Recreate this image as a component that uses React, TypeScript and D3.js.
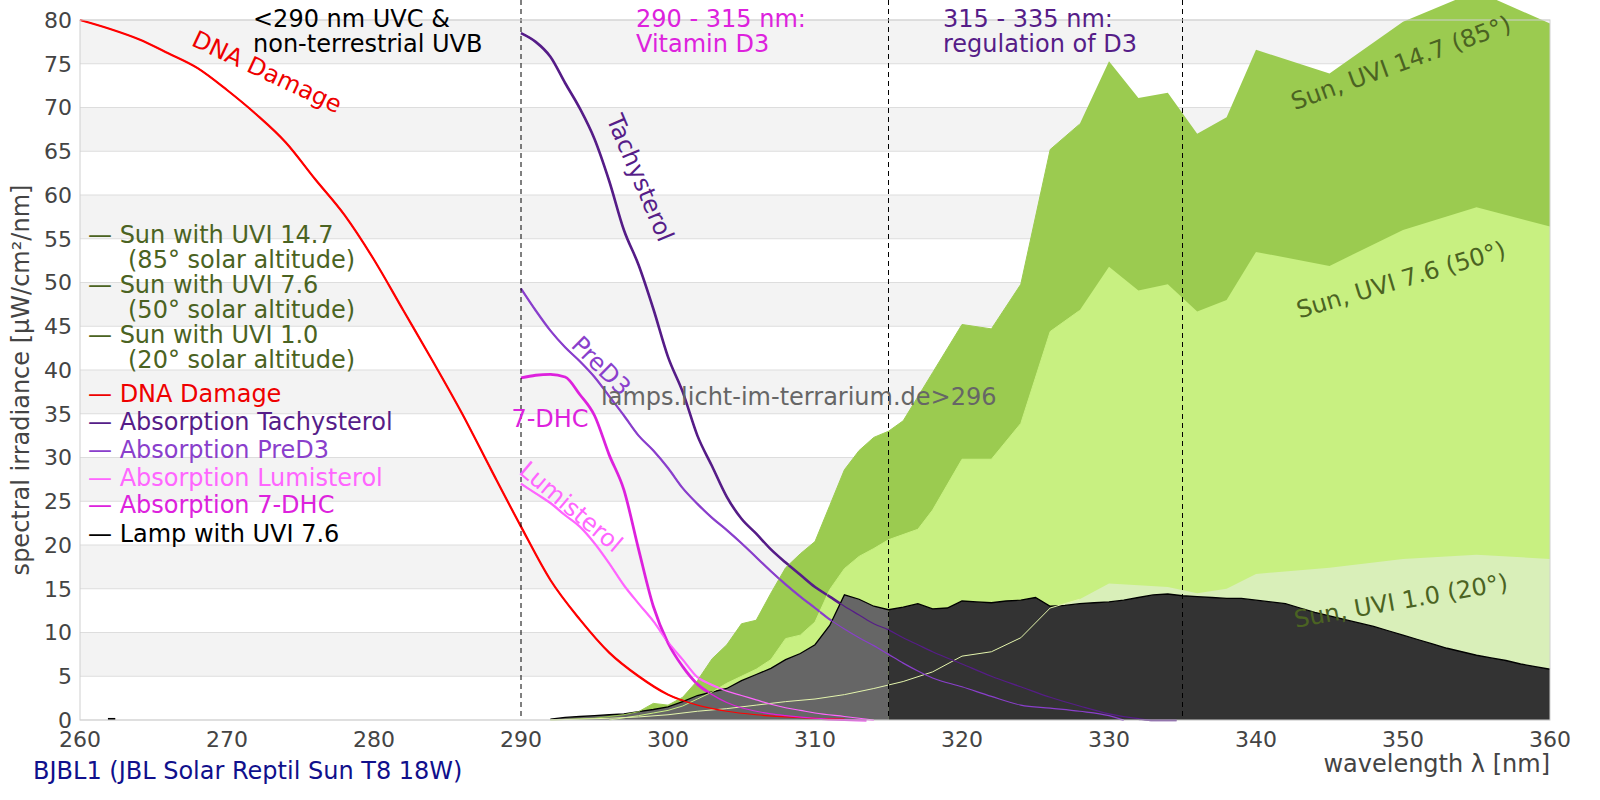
import React, { useRef, useEffect } from 'react'
import * as d3 from 'd3'

type Pt = [number, number]

// wavelength [nm], value
const sun147: Pt[] = [
  [292, 0], [295, 0.2], [297, 0.6], [298, 0.95], [299, 1.9], [300, 1.7], [301, 2.6], [302, 4.5],
  [303, 7.0], [304, 8.6], [305, 11], [306, 11.4], [307, 14.5], [308, 17.4], [309, 19], [310, 20.4],
  [311, 24.5], [312, 28.6], [313, 30.8], [314, 32.3], [315, 33.0], [316, 34.2], [318, 39.7],
  [320, 45.2], [322, 44.7], [324, 49.8], [326, 65.2], [328, 68.1], [330, 75.3], [332, 71.1],
  [334, 71.7], [336, 67.0], [338, 68.9], [340, 76.6], [345, 73.9], [350, 79.8], [355, 83.3], [360, 79.6]
]

const sun76: Pt[] = [
  [296, 0], [298, 0.5], [299, 0.8], [300, 1.1], [301, 1.6], [302, 2.4], [303, 3.2], [304, 4.2],
  [305, 5.0], [306, 5.8], [307, 6.9], [308, 9.3], [309, 9.7], [310, 11.2], [311, 14.9], [312, 17.3],
  [313, 18.7], [314, 19.6], [315, 20.6], [317, 21.8], [318, 24.0], [320, 29.8], [322, 29.8],
  [324, 33.9], [326, 44.4], [328, 46.8], [330, 51.8], [332, 49.1], [334, 49.8], [336, 46.7],
  [338, 48.0], [340, 53.5], [345, 51.9], [350, 56.0], [355, 58.6], [360, 56.4]
]

const sun10: Pt[] = [
  [292, 0], [294, 0.1], [296, 0.2], [298, 0.35], [300, 0.6], [302, 1.0], [304, 1.3], [306, 1.7],
  [308, 2.1], [310, 2.4], [312, 2.9], [314, 3.6], [316, 4.4], [318, 5.5], [320, 7.3], [322, 7.8],
  [324, 9.4], [326, 12.8], [328, 13.8], [330, 15.6], [332, 15.4], [334, 15.2], [336, 14.5],
  [338, 15.0], [340, 16.7], [345, 17.4], [350, 18.4], [355, 18.9], [360, 18.4]
]

const lamp: Pt[] = [
  [292, 0.1], [293, 0.3], [294, 0.4], [295, 0.5], [296, 0.6], [297, 0.7], [298, 0.95], [299, 1.2],
  [300, 1.5], [301, 2.1], [302, 2.8], [303, 3.2], [304, 3.6], [305, 4.5], [306, 5.2], [307, 5.9],
  [308, 6.9], [309, 7.6], [310, 8.6], [311, 10.8], [312, 14.3], [313, 13.8], [314, 13.0], [315, 12.6],
  [316, 12.9], [317, 13.3], [318, 12.7], [319, 12.8], [320, 13.6], [321, 13.5], [322, 13.4],
  [323, 13.6], [324, 13.7], [325, 14.0], [326, 13.0], [327, 13.1], [328, 13.3], [329, 13.4],
  [330, 13.5], [331, 13.7], [332, 14.0], [333, 14.3], [334, 14.4], [335, 14.2], [336, 14.1],
  [337, 14.0], [338, 13.9], [339, 13.9], [340, 13.7], [341, 13.5], [342, 13.3], [343, 12.8],
  [344, 12.3], [345, 11.9], [346, 11.5], [347, 11.1], [348, 10.7], [349, 10.2], [350, 9.7],
  [351, 9.2], [352, 8.7], [353, 8.2], [354, 7.8], [355, 7.4], [356, 7.1], [357, 6.8], [358, 6.4],
  [359, 6.1], [360, 5.8]
]

const lampStub: Pt[] = [[261.9, 0.12], [262.4, 0.12]]

const dnaDamage: Pt[] = [
  [260, 80], [262, 79], [264, 77.8], [266, 76.2], [268, 74.5], [270, 72], [272, 69.2], [274, 66],
  [276, 61.8], [278, 57.7], [280, 52.6], [282, 46.8], [284, 41], [286, 35], [288, 28.5], [290, 22.1],
  [292, 16], [294, 11.5], [296, 7.7], [298, 5], [300, 2.9], [302, 1.7], [304, 1.0], [306, 0.6],
  [308, 0.35], [310, 0.2], [312, 0.1]
]

const tachysterol: Pt[] = [
  [290, 78.5], [291, 77.5], [292, 75.8], [293, 72.8], [294, 69.9], [295, 66.4], [296, 61.6],
  [297, 56], [298, 52], [299, 47], [300, 41.5], [301, 37.5], [302, 32.5], [303, 29], [304, 25.5],
  [305, 23], [306, 21.3], [307, 19.5], [308, 18], [309, 16.6], [310, 15.2], [311, 14.1], [312, 13],
  [313, 12], [314, 11], [315, 10.3], [316, 9.4], [317, 8.6], [318, 7.8], [320, 6.4], [322, 5],
  [324, 3.8], [326, 2.6], [328, 1.6], [330, 0.7], [332, 0.15], [333, 0], [334.6, 0]
]

const preD3: Pt[] = [
  [290, 49.3], [291, 46.8], [292, 44.5], [293, 42.6], [294, 41], [295, 39.2], [296, 37], [297, 34.8],
  [298, 32.5], [299, 30.8], [300, 28.8], [301, 26.5], [302, 24.7], [303, 23.1], [304, 21.7],
  [305, 20.2], [306, 18.6], [307, 17], [308, 15.5], [309, 14.1], [310, 12.8], [311, 11.5], [312, 10.4],
  [313, 9.4], [314, 8.5], [315, 7.5], [316, 6.5], [317, 5.6], [318, 4.8], [320, 3.8], [322, 2.7],
  [324, 1.7], [326, 1.35], [328, 1.0], [330, 0.5], [331, 0]
]

const dhc7: Pt[] = [
  [290, 39.1], [291, 39.4], [292, 39.5], [293, 39.2], [294, 37.2], [295, 34.8], [296, 30.3],
  [297, 26.3], [298, 19.5], [299, 13], [300, 8.8], [301, 6.1], [302, 4.1], [303, 2.9], [304, 2.0],
  [305, 1.4], [306, 1.0], [307, 0.7], [308, 0.5], [310, 0.2], [312, 0.05], [313.5, 0]
]

const lumisterol: Pt[] = [
  [290, 27], [291, 25.9], [292, 24.8], [293, 23.4], [294, 22.1], [295, 20.2], [296, 17.9],
  [297, 15.4], [298, 13.3], [299, 11.3], [300, 8.9], [301, 6.9], [302, 4.9], [303, 4.0], [304, 3.3],
  [305, 2.8], [306, 2.3], [307, 1.8], [308, 1.4], [309, 1.1], [310, 0.8], [312, 0.4], [314, 0]
]

const xTicks = [260, 270, 280, 290, 300, 310, 320, 330, 340, 350, 360]
const yTicks = [0, 5, 10, 15, 20, 25, 30, 35, 40, 45, 50, 55, 60, 65, 70, 75, 80]
const rangeMarks = [290, 315, 335]

const legendItems = [
  { text: '— Sun with UVI 14.7', sub: '(85° solar altitude)', color: '#4b6322' },
  { text: '— Sun with UVI 7.6', sub: '(50° solar altitude)', color: '#4b6322' },
  { text: '— Sun with UVI 1.0', sub: '(20° solar altitude)', color: '#4b6322' },
  { text: '— DNA Damage', color: '#ee0000' },
  { text: '— Absorption Tachysterol', color: '#561d88' },
  { text: '— Absorption PreD3', color: '#8a3fcc' },
  { text: '— Absorption Lumisterol', color: '#ff66ff' },
  { text: '— Absorption 7-DHC', color: '#dd22dd' },
  { text: '— Lamp with UVI 7.6', color: '#000000' }
]

const App: React.FC = () => {
  const svgRef = useRef<SVGSVGElement>(null)

  useEffect(() => {
    document.body.style.margin = '0'
    if (!svgRef.current) return
    const svg = d3.select(svgRef.current)
    svg.selectAll('*').remove()

    const x = d3.scaleLinear().domain([260, 360]).range([80, 1550])
    const y = d3.scaleLinear().domain([0, 80]).range([720, 20])

    const area = d3.area<Pt>().x(d => x(d[0])).y0(y(0)).y1(d => y(d[1]))
    const line = d3.line<Pt>().x(d => x(d[0])).y(d => y(d[1]))
    const smooth = d3.line<Pt>().x(d => x(d[0])).y(d => y(d[1])).curve(d3.curveMonotoneX)

    // alternating stripes
    svg.append('g')
      .selectAll('rect')
      .data(yTicks.filter(v => v % 10 === 5))
      .enter()
      .append('rect')
      .attr('x', x(260))
      .attr('width', x(360) - x(260))
      .attr('y', d => y(d + 5))
      .attr('height', d => y(d) - y(d + 5))
      .attr('fill', '#f3f3f3')

    svg.append('g')
      .selectAll('line')
      .data(yTicks)
      .enter()
      .append('line')
      .attr('x1', x(260))
      .attr('x2', x(360))
      .attr('y1', d => y(d))
      .attr('y2', d => y(d))
      .attr('stroke', '#dddddd')
      .attr('stroke-width', 1)

    // sun spectra
    const suns: { data: Pt[]; fill: string; edge: string }[] = [
      { data: sun147, fill: '#9bcb50', edge: '#9bcb50' },
      { data: sun76, fill: '#c8f081', edge: '#c8f081' },
      { data: sun10, fill: '#d9efb9', edge: '#e4f5ad' }
    ]
    suns.forEach(s => {
      svg.append('path').attr('d', area(s.data)).attr('fill', s.fill)
    })

    // action spectra: thick below the lamp, thin on top of it
    const curves: { data: Pt[]; color: string; w: number }[] = [
      { data: dnaDamage, color: '#ff0000', w: 2.2 },
      { data: lumisterol, color: '#ff66ff', w: 2.2 },
      { data: dhc7, color: '#dd22dd', w: 2.8 },
      { data: preD3, color: '#8a3fcc', w: 2.2 },
      { data: tachysterol, color: '#561d88', w: 2.6 }
    ]
    curves.forEach(c => {
      svg.append('path').attr('d', smooth(c.data)).attr('fill', 'none')
        .attr('stroke', c.color).attr('stroke-width', c.w).attr('stroke-linejoin', 'round')
    })

    // lamp
    svg.append('path').attr('d', area(lamp.filter(d => d[0] <= 315))).attr('fill', '#666666')
    svg.append('path').attr('d', area(lamp.filter(d => d[0] >= 315))).attr('fill', '#333333')
    svg.append('path').attr('d', line(lamp)).attr('fill', 'none').attr('stroke', '#000').attr('stroke-width', 1.3)
    svg.append('path').attr('d', line(lampStub)).attr('fill', 'none').attr('stroke', '#000').attr('stroke-width', 2)

    suns.forEach(s => {
      svg.append('path').attr('d', line(s.data.filter(d => d[0] <= 328)))
        .attr('fill', 'none').attr('stroke', s.edge).attr('stroke-width', 1)
    })

    curves.forEach(c => {
      svg.append('path').attr('d', smooth(c.data)).attr('fill', 'none')
        .attr('stroke', c.color).attr('stroke-width', 1.2).attr('stroke-linejoin', 'round')
    })

    // range marks
    svg.append('g')
      .selectAll('line')
      .data(rangeMarks)
      .enter()
      .append('line')
      .attr('x1', d => x(d))
      .attr('x2', d => x(d))
      .attr('y1', 0)
      .attr('y2', y(0))
      .attr('stroke', '#000')
      .attr('stroke-width', 1)
      .attr('stroke-dasharray', '5,4')

    // frame
    svg.append('rect')
      .attr('x', x(260)).attr('y', y(80))
      .attr('width', x(360) - x(260)).attr('height', y(0) - y(80))
      .attr('fill', 'none').attr('stroke', '#d0d0d0').attr('stroke-width', 1)

    // ticks
    svg.append('g')
      .selectAll('text')
      .data(xTicks)
      .enter()
      .append('text')
      .attr('x', d => x(d))
      .attr('y', 747)
      .attr('text-anchor', 'middle')
      .style('font-size', '22px')
      .style('fill', '#444')
      .text(d => d)

    svg.append('g')
      .selectAll('text')
      .data(yTicks)
      .enter()
      .append('text')
      .attr('x', 72)
      .attr('y', d => y(d))
      .attr('dy', '0.36em')
      .attr('text-anchor', 'end')
      .style('font-size', '22px')
      .style('fill', '#444')
      .text(d => d)

    svg.append('text')
      .attr('transform', 'translate(29,380) rotate(-90)')
      .attr('text-anchor', 'middle')
      .style('font-size', '24px')
      .style('fill', '#444')
      .text('spectral irradiance [µW/cm²/nm]')

    svg.append('text')
      .attr('x', 1550).attr('y', 772)
      .attr('text-anchor', 'end')
      .style('font-size', '24px')
      .style('fill', '#444')
      .text('wavelength λ [nm]')

    svg.append('text')
      .attr('x', 33).attr('y', 779)
      .style('font-size', '24px')
      .style('fill', '#10108c')
      .text('BJBL1 (JBL Solar Reptil Sun T8 18W)')

    // region headings
    const heading = (tx: number, lines: string[], color: string) => {
      lines.forEach((t, i) => {
        svg.append('text').attr('x', tx).attr('y', 27 + i * 25)
          .style('font-size', '24px').style('fill', color).text(t)
      })
    }
    heading(253, ['<290 nm UVC &', 'non-terrestrial UVB'], '#000')
    heading(636, ['290 - 315 nm:', 'Vitamin D3'], '#dd22dd')
    heading(943, ['315 - 335 nm:', 'regulation of D3'], '#561d88')

    // curve labels
    const tag = (cx: number, cy: number, angle: number, t: string, color: string) => {
      svg.append('text')
        .attr('transform', `translate(${cx},${cy}) rotate(${angle})`)
        .attr('text-anchor', 'middle')
        .attr('dominant-baseline', 'central')
        .style('font-size', '24px')
        .style('fill', color)
        .text(t)
    }
    tag(267, 72, 25, 'DNA Damage', '#ee0000')
    tag(640, 178, 67, 'Tachysterol', '#561d88')
    tag(601, 366, 45, 'PreD3', '#8a3fcc')
    tag(571, 507, 40, 'Lumisterol', '#ff66ff')
    tag(550, 419, 0, '7-DHC', '#dd22dd')
    tag(1401, 63, -20, 'Sun, UVI 14.7 (85°)', '#4b6322')
    tag(1401, 280, -16.5, 'Sun, UVI 7.6 (50°)', '#4b6322')
    tag(1401, 601, -10, 'Sun, UVI 1.0 (20°)', '#4b6322')

    svg.append('text')
      .attr('x', 601).attr('y', 405)
      .style('font-size', '24px')
      .style('fill', '#666')
      .text('lamps.licht-im-terrarium.de>296')

    // legend
    const baselines = [243, 293, 343, 402, 430, 458, 486, 513, 542]
    legendItems.forEach((it, i) => {
      svg.append('text').attr('x', 88).attr('y', baselines[i])
        .style('font-size', '24px').style('fill', it.color).text(it.text)
      if (it.sub) {
        svg.append('text').attr('x', 128).attr('y', baselines[i] + 25)
          .style('font-size', '24px').style('fill', it.color).text(it.sub)
      }
    })
  }, [])

  return (
    <svg
      ref={svgRef}
      width={1600}
      height={800}
      style={{ display: 'block', fontFamily: 'DejaVu Sans' }}
    />
  )
}

export default App
